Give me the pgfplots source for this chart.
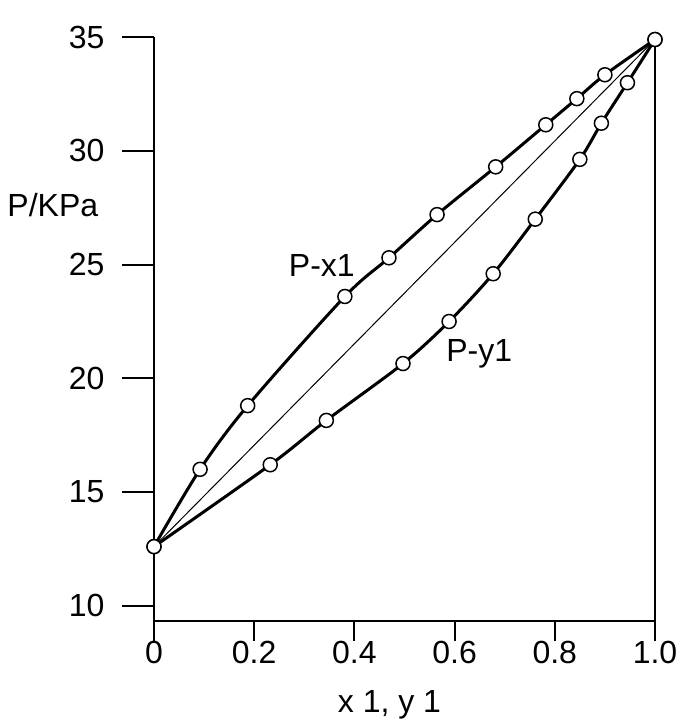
\documentclass[border=0pt]{standalone}
\usepackage{fontspec}
\setmainfont{Liberation Sans}
\usepackage{pgfplots}
\pgfplotsset{compat=1.18}
\begin{document}
\begin{tikzpicture}
\useasboundingbox (-61.6pt,-40.5pt) rectangle (210.4pt,248.3pt);
\begin{axis}[at={(0,0)}, anchor=south west, scale only axis,
  width=200.4pt, height=233.4pt,
  xmin=0, xmax=1, ymin=9.34, ymax=35,
  axis x line*=bottom, axis y line*=left,
  axis line style={line width=0.8pt, -},
  tick align=outside,
  xtick style={/pgfplots/major tick length=8pt},
  ytick style={/pgfplots/major tick length=12.7pt},
  tick style={line width=0.8pt, black},
  xtick={0,0.2,0.4,0.6,0.8,1}, xticklabels={0,0.2,0.4,0.6,0.8,1.0},
  ytick={10,15,20,25,30,35},
  ticklabel style={font=\fontsize{12.8}{14}\selectfont},
  xticklabel style={yshift=-0.4pt},
  yticklabel style={xshift=-12pt},
  /pgf/number format/assume math mode=true,
  xlabel={x 1, y 1},
  xlabel style={font=\fontsize{12.8}{14}\selectfont, at={(axis description cs:0.47,0)}, anchor=center, yshift=-33.5pt},
  clip=false]
\addplot[line width=0.4pt] coordinates {(0,12.6) (1,34.9)};
\addplot[line width=1.2pt, smooth, tension=0.5, mark=*, mark size=2.8pt,
  mark options={fill=white, draw=black, line width=0.6pt}] coordinates {
  (0,12.6) (0.092,16.0) (0.187,18.8) (0.381,23.6) (0.469,25.3) (0.565,27.2)
  (0.682,29.3) (0.782,31.15) (0.844,32.3) (0.9,33.35) (1.0,34.9)};
\addplot[line width=1.2pt, smooth, tension=0.5, mark=*, mark size=2.8pt,
  mark options={fill=white, draw=black, line width=0.6pt}] coordinates {
  (0,12.6) (0.232,16.2) (0.344,18.15) (0.497,20.65) (0.589,22.5) (0.677,24.6)
  (0.761,27.0) (0.85,29.63) (0.893,31.22) (0.945,33.0) (1.0,34.9)};
\draw[line width=0.8pt] (axis cs:1,9.34) -- (axis cs:1,35);
\node[font=\fontsize{12.8}{14}\selectfont] at (axis cs:0.335,24.98) {P-x1};
\node[font=\fontsize{12.8}{14}\selectfont] at (axis cs:0.649,21.1) {P-y1};
\node[font=\fontsize{12.8}{14}\selectfont, anchor=east] at ([xshift=-18.8pt]axis cs:0,27.6) {P/KPa};
\end{axis}
\end{tikzpicture}
\end{document}
